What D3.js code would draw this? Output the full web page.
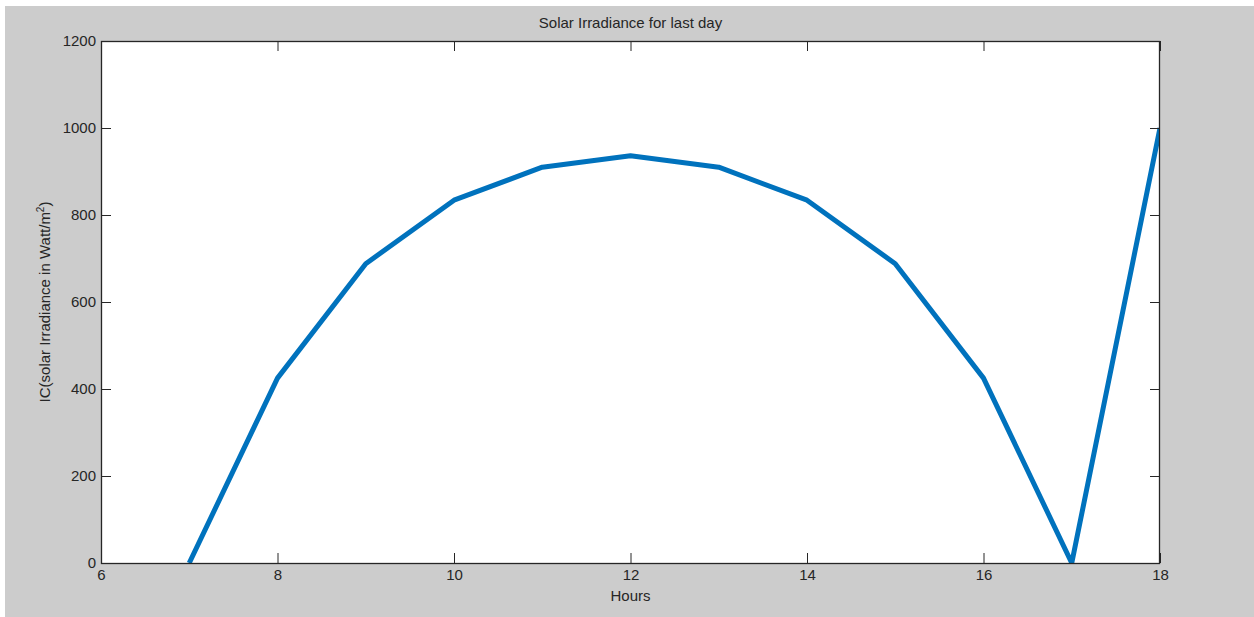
<!DOCTYPE html>
<html>
<head>
<meta charset="utf-8">
<script src="https://cdn.jsdelivr.net/npm/d3@7"></script>
<style>
  html, body { margin: 0; padding: 0; background: #ffffff; }
  svg { display: block; }
  text { font-family: "Liberation Sans", Arial, sans-serif; fill: #262626; }
</style>
</head>
<body>
<svg id="chart" width="1254" height="617"></svg>
<script>
// Hourly solar irradiance over the last day
const hours = [7, 8, 9, 10, 11, 12, 13, 14, 15, 16, 17, 18];
const irradiance = [0, 425, 688, 834, 910, 936, 910, 834, 688, 425, 0, 1000];
const xTicks = [6, 8, 10, 12, 14, 16, 18];
const yTicks = [0, 200, 400, 600, 800, 1000, 1200];

const svg = d3.select("#chart");
const W = 1254, H = 617;
const plot = { left: 101, top: 41, right: 1160, bottom: 563 };
const fontSize = "15px";

// Figure background
svg.append("rect").attr("x", 5).attr("y", 6).attr("width", W - 5).attr("height", H - 6)
  .attr("fill", "#cccccc");

const x = d3.scaleLinear().domain([6, 18]).range([plot.left, plot.right]);
const y = d3.scaleLinear().domain([0, 1200]).range([plot.bottom, plot.top]);

// Axes area
svg.append("rect")
  .attr("x", plot.left).attr("y", plot.top)
  .attr("width", plot.right - plot.left).attr("height", plot.bottom - plot.top)
  .attr("fill", "#ffffff");

// Data line (clipped to the axes box)
svg.append("clipPath").attr("id", "clip").append("rect")
  .attr("x", plot.left).attr("y", plot.top - 3)
  .attr("width", plot.right - plot.left).attr("height", plot.bottom - plot.top + 3);

const line = d3.line().x((d, i) => x(hours[i])).y(d => y(d));
svg.append("path")
  .datum(irradiance)
  .attr("clip-path", "url(#clip)")
  .attr("d", line)
  .attr("fill", "none")
  .attr("stroke", "#0072bd")
  .attr("stroke-width", 5)
  .attr("stroke-linejoin", "round");

const tickLen = 10;
const axisColor = "#262626";

function styleAxis(g) {
  g.select(".domain").remove();
  g.selectAll(".tick line").attr("stroke", axisColor).attr("stroke-width", 1);
  g.selectAll(".tick text")
    .style("font-size", fontSize)
    .style("fill", axisColor);
}

// Bottom axis: inward ticks with labels
svg.append("g")
  .attr("transform", `translate(0,${plot.bottom})`)
  .call(d3.axisBottom(x).tickValues(xTicks).tickFormat(d3.format("d"))
    .tickSizeInner(-tickLen).tickSizeOuter(0).tickPadding(6))
  .call(styleAxis);

// Top axis: ticks only
svg.append("g")
  .attr("transform", `translate(0,${plot.top})`)
  .call(d3.axisTop(x).tickValues(xTicks).tickFormat("")
    .tickSizeInner(-tickLen).tickSizeOuter(0))
  .call(styleAxis);

// Left axis: inward ticks with labels
svg.append("g")
  .attr("transform", `translate(${plot.left},0)`)
  .call(d3.axisLeft(y).tickValues(yTicks).tickFormat(d3.format("d"))
    .tickSizeInner(-tickLen).tickSizeOuter(0).tickPadding(5))
  .call(styleAxis);

// Right axis: ticks only
svg.append("g")
  .attr("transform", `translate(${plot.right},0)`)
  .call(d3.axisRight(y).tickValues(yTicks).tickFormat("")
    .tickSizeInner(-tickLen).tickSizeOuter(0))
  .call(styleAxis);

// Axes box
svg.append("rect")
  .attr("x", plot.left + 0.5).attr("y", plot.top + 0.5)
  .attr("width", plot.right - plot.left - 1).attr("height", plot.bottom - plot.top)
  .attr("fill", "none").attr("stroke", axisColor).attr("stroke-width", 1.3);

// Title
svg.append("text")
  .attr("x", (plot.left + plot.right) / 2).attr("y", 28)
  .attr("text-anchor", "middle")
  .style("font-size", fontSize)
  .text("Solar Irradiance for last day");

// X label
svg.append("text")
  .attr("x", (plot.left + plot.right) / 2).attr("y", 601)
  .attr("text-anchor", "middle")
  .style("font-size", fontSize)
  .text("Hours");

// Y label with superscript
const yl = svg.append("text")
  .attr("transform", `translate(50,${(plot.top + plot.bottom) / 2}) rotate(-90)`)
  .attr("text-anchor", "middle")
  .style("font-size", fontSize);
yl.append("tspan").text("IC(solar Irradiance in Watt/m");
yl.append("tspan").attr("dy", -6).style("font-size", "10px").text("2");
yl.append("tspan").attr("dy", 6).text(")");
</script>
</body>
</html>
